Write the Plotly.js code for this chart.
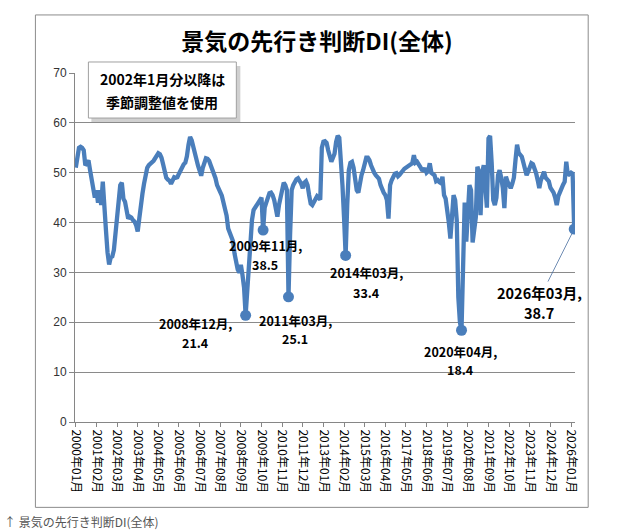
<!DOCTYPE html>
<html>
<head>
<meta charset="utf-8">
<script src="https://cdn.plot.ly/plotly-3.0.1.min.js"></script>
<style>
  html, body { margin: 0; padding: 0; background: #fff; }
  #chart { width: 634px; height: 531px; }
</style>
</head>
<body>
<div id="chart"></div>
<script>
// 景気ウォッチャー調査 先行き判断DI(全体), 2000年01月 - 2026年03月
const startYear = 2000;

const diValues = [
  51.0, 53.5, 55.0, 55.2, 55.0, 54.5, 51.5, 51.8, 52.5, 50.5, 48.5, 46.5, // 2000
  45.0, 46.5, 44.0, 46.5, 43.5, 48.2, 42.0, 38.5, 34.0, 31.6, 33.0, 33.2, // 2001
  34.5, 38.0, 41.5, 46.0, 47.5, 48.0, 44.8, 44.2, 42.5, 40.8, 41.2, 41.0, // 2002
  40.5, 40.2, 39.5, 38.2, 40.8, 44.0, 45.8, 47.8, 49.5, 51.0, 51.5, 51.8, // 2003
  52.0, 52.4, 52.9, 53.5, 53.9, 53.7, 53.0, 51.7, 49.9, 49.0, 48.6, 48.4, // 2004
  47.8, 48.8, 49.1, 49.0, 49.1, 49.8, 50.6, 51.2, 51.7, 52.0, 53.3, 55.6, // 2005
  57.2, 56.5, 55.0, 53.8, 52.6, 51.4, 50.4, 49.4, 51.0, 52.1, 52.9, 52.8, // 2006
  52.4, 51.5, 50.7, 49.8, 48.9, 47.5, 46.5, 46.1, 45.4, 44.1, 43.0, 41.4, // 2007
  38.8, 37.8, 37.0, 36.3, 33.8, 31.8, 30.6, 30.0, 31.5, 29.5, 27.0, 21.4, // 2008
  26.0, 31.0, 36.5, 40.5, 42.5, 43.0, 43.2, 44.0, 44.6, 45.0, 38.5, 43.0, // 2009
  44.0, 45.0, 45.9, 46.0, 45.5, 44.5, 42.5, 41.2, 43.5, 45.5, 46.5, 48.0, // 2010
  47.5, 46.5, 25.1, 37.5, 46.5, 47.5, 48.2, 48.7, 48.9, 48.5, 47.8, 46.9, // 2011
  48.0, 48.3, 47.5, 45.5, 43.8, 43.5, 44.2, 44.8, 45.3, 45.0, 44.6, 55.0, // 2012
  56.2, 56.3, 56.0, 54.5, 52.9, 52.2, 53.0, 53.8, 56.2, 57.4, 57.0, 53.0, // 2013
  47.5, 41.0, 33.4, 43.5, 50.5, 52.0, 52.2, 51.0, 49.0, 46.5, 46.0, 48.0, // 2014
  49.5, 50.5, 52.0, 53.0, 53.0, 52.5, 51.5, 50.5, 50.0, 49.5, 49.0, 48.8, // 2015
  47.5, 46.5, 46.0, 45.5, 44.5, 40.8, 47.5, 48.5, 49.5, 49.8, 49.9, 49.3, // 2016
  49.6, 49.9, 50.4, 50.8, 51.0, 51.2, 51.4, 51.5, 51.9, 53.5, 52.0, 52.2, // 2017
  51.8, 51.2, 50.6, 50.5, 50.9, 50.0, 50.3, 51.9, 50.0, 49.8, 49.5, 48.3, // 2018
  48.5, 48.1, 47.9, 49.2, 45.5, 44.8, 43.0, 40.0, 36.8, 42.5, 45.5, 44.5, // 2019
  40.5, 25.0, 20.0, 18.4, 35.0, 44.0, 36.2, 43.5, 47.5, 46.5, 36.0, 38.5, // 2020
  41.0, 51.2, 50.2, 41.5, 50.0, 51.5, 48.0, 43.0, 56.9, 57.4, 52.0, 44.5, // 2021
  43.5, 45.0, 49.5, 50.5, 49.0, 47.0, 42.9, 49.2, 48.2, 47.5, 46.9, 47.8, // 2022
  49.0, 52.5, 55.6, 54.0, 53.6, 53.2, 52.0, 50.8, 49.5, 50.2, 51.0, 51.9, // 2023
  51.7, 51.0, 49.9, 48.5, 46.9, 48.5, 49.5, 50.2, 49.0, 48.5, 48.3, 47.0, // 2024
  46.5, 46.0, 45.0, 43.5, 45.3, 46.3, 47.0, 47.6, 48.2, 52.2, 49.5, 49.9, // 2025
  50.0, 49.8, 38.7                                                        // 2026
];

const labelMonths = ['2008年12月', '2009年11月', '2011年03月', '2014年03月', '2020年04月', '2026年03月'];
const noteLines = ['2002年1月分以降は', '季節調整値を使用'];
const chartTitle = '景気の先行き判断DI(全体)';
const captionText = '↑ 景気の先行き判断DI(全体)';

const months = diValues.map((_, i) => {
  const y = startYear + Math.floor(i / 12);
  const m = String(i % 12 + 1).padStart(2, '0');
  return y + '年' + m + '月';
});
const tickMonths = months.filter((_, i) => i % 13 === 0);

// plot area in pixels
const L = 74.6, T = 73, W = 500.2, H = 348.7;
const px = x => (x - L) / W;
const py = y => (T + H - y) / H;

const lineColor = '#4a7ebb';
const jpFont = '"Noto Sans CJK JP", "Noto Sans", sans-serif';

// per-label text offsets (px), [xshift, yshift of first line, line gap, size]
const labelPos = [
  [-50, -8, 19, 12.5],
  [2, -15, 19, 12.5],
  [7, -24, 18, 12.5],
  [21, -17, 20, 12.5],
  [-1, -21, 18, 12.5],
  [-35, -63, 20, 14.5]
];

const labelIdx = labelMonths.map(m => months.indexOf(m));

const annotations = [];
labelIdx.forEach((idx, k) => {
  const [xs, ys, gap, size] = labelPos[k];
  annotations.push({
    x: months[idx], y: diValues[idx], xref: 'x', yref: 'y',
    text: months[idx] + ',', showarrow: false,
    xshift: xs, yshift: ys, xanchor: 'center', yanchor: 'middle',
    font: { family: jpFont, size: size, color: '#000', weight: 'bold' }
  });
  annotations.push({
    x: months[idx], y: diValues[idx], xref: 'x', yref: 'y',
    text: diValues[idx].toFixed(1), showarrow: false,
    xshift: xs, yshift: ys - gap, xanchor: 'center', yanchor: 'middle',
    font: { family: jpFont, size: size, color: '#000', weight: 'bold' }
  });
});

// leader line for the latest value
const last = labelIdx[labelIdx.length - 1];
annotations.push({
  x: months[last], y: diValues[last], xref: 'x', yref: 'y',
  text: '', showarrow: true, arrowhead: 0, arrowwidth: 0.8,
  arrowcolor: '#4a6fa0', ax: -27, ay: 54, standoff: 5
});

noteLines.forEach((t, i) => {
  annotations.push({
    x: px(162), y: py(79 + i * 23), xref: 'paper', yref: 'paper',
    text: t, showarrow: false, xanchor: 'center', yanchor: 'middle',
    font: { family: jpFont, size: 14, color: '#000', weight: 'bold' }
  });
});

annotations.push({
  x: px(2), y: py(521), xref: 'paper', yref: 'paper',
  text: captionText, showarrow: false, xanchor: 'left', yanchor: 'middle',
  font: { family: jpFont, size: 12, color: '#555' }
});

const shapes = [
  { type: 'rect', xref: 'paper', yref: 'paper',
    x0: px(35), x1: px(588), y0: py(507), y1: py(15),
    line: { color: '#8c8c8c', width: 1 }, fillcolor: 'rgba(0,0,0,0)', layer: 'below' },
  { type: 'rect', xref: 'paper', yref: 'paper',
    x0: px(91), x1: px(240), y0: py(122), y1: py(66),
    line: { width: 0 }, fillcolor: 'rgba(150,150,150,0.45)', layer: 'above' },
  { type: 'rect', xref: 'paper', yref: 'paper',
    x0: px(88), x1: px(236), y0: py(118), y1: py(62),
    line: { color: '#a0a0a0', width: 1 }, fillcolor: '#ffffff', layer: 'above' }
];

const traces = [
  {
    type: 'scatter', mode: 'lines',
    x: months, y: diValues,
    line: { color: lineColor, width: 4.3 },
    hoverinfo: 'x+y'
  },
  {
    type: 'scatter', mode: 'markers',
    x: labelIdx.map(i => months[i]), y: labelIdx.map(i => diValues[i]),
    marker: { color: lineColor, size: 11 },
    hoverinfo: 'x+y'
  }
];

const layout = {
  width: 634, height: 531,
  margin: { l: L, r: 634 - L - W, t: T, b: 531 - T - H, pad: 0 },
  paper_bgcolor: '#fff', plot_bgcolor: '#fff',
  showlegend: false,
  title: {
    text: chartTitle, x: 317 / 634, xanchor: 'center', y: 1 - 42 / 531, yanchor: 'middle',
    font: { family: jpFont, size: 23, color: '#000', weight: 'bold' }
  },
  xaxis: {
    type: 'category', range: [-0.5, months.length - 0.5],
    tickmode: 'array', tickvals: tickMonths, ticktext: tickMonths,
    tickangle: 90, ticks: 'outside', ticklen: 4, tickcolor: '#868686',
    showline: true, linecolor: '#868686', linewidth: 1,
    showgrid: false, zeroline: false,
    tickfont: { family: jpFont, size: 12, color: '#000' }
  },
  yaxis: {
    range: [0, 70], dtick: 10, tick0: 0,
    ticks: 'outside', ticklen: 5, tickcolor: '#868686',
    showline: true, linecolor: '#868686', linewidth: 1,
    showgrid: true, gridcolor: '#8a8a8a', gridwidth: 1, zeroline: false,
    tickfont: { family: '"Liberation Sans", Arial, sans-serif', size: 12, color: '#333' }
  },
  annotations: annotations,
  shapes: shapes
};

Plotly.newPlot('chart', traces, layout, { displayModeBar: false, staticPlot: true });
</script>
</body>
</html>
